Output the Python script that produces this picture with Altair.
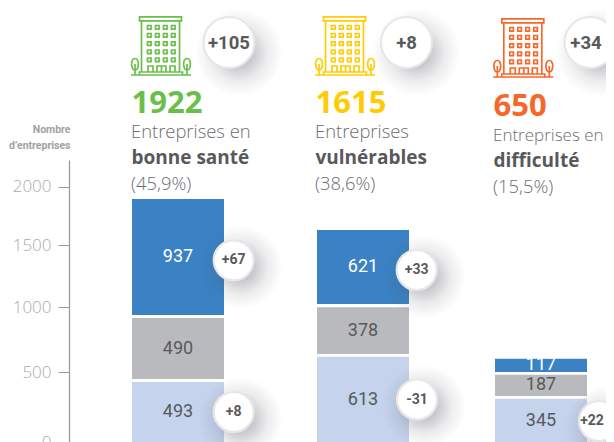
import altair as alt
import pandas as pd

# ---- data
groups = ["bonne santé", "vulnérables", "difficulté"]
totals = ["1922", "1615", "650"]
shares = ["(45,9%)", "(38,6%)", "(15,5%)"]
lead = ["Entreprises en", "Entreprises", "Entreprises en"]
totals_delta = ["+105", "+8", "+34"]
segment_labels = ["937", "490", "493", "621", "378", "613", "117", "187", "345"]
segment_group = [0, 0, 0, 1, 1, 1, 2, 2, 2]
segment_kind = ["haut", "milieu", "bas"] * 3
segment_low = [1032, 516, 0, 1121, 718, 0, 573, 379, 0]
segment_high = [1968, 1008, 492, 1718, 1094, 696, 680, 551, 357]
segment_delta = ["+67", "", "+8", "+33", "", "-31", "", "", "+22"]
axis_ticks = [0, 500, 1000, 1500, 2000]

# ---- layout (page pixels)
PX_X = alt.Scale(domain=[69, 606], range=[0, 537])
PX_Y = alt.Scale(domain=[8, 442], range=[0, 434])
BAR_Y = alt.Scale(domain=[0, 3508], range=[435, 0])
AXIS_Y = alt.Scale(domain=[-100, 0, 500, 1000, 1500, 2000, 2210],
                   range=[500, 434, 364, 299.3, 237.3, 178.6, 152], nice=False, zero=False)
bar_left = [132, 317, 495]
BAR_W = 92
colors = {"haut": "#3a82c4", "milieu": "#b9babd", "bas": "#c5d3ec"}
label_colors = {"haut": "#ffffff", "milieu": "#58595b", "bas": "#58595b"}
head_colors = ["#6abf4b", "#ffcb05", "#f7672a"]
GREY_D = "#58595b"
GREY_L = "#6d6e71"


def X(f="x"):
    return alt.X(f"{f}:Q", scale=PX_X, axis=None)


def Y(f="y"):
    return alt.Y(f"{f}:Q", scale=PX_Y, axis=None)


# ---- bars
rows = []
for i, lab in enumerate(segment_labels):
    g = segment_group[i]
    k = segment_kind[i]
    rows.append(dict(x=bar_left[g], x2=bar_left[g] + BAR_W, low=segment_low[i], high=segment_high[i],
                     mid=(segment_low[i] + segment_high[i]) / 2, xc=bar_left[g] + BAR_W / 2,
                     label=lab, kind=k, delta=segment_delta[i]))
bars_df = pd.DataFrame(rows)

bars = alt.Chart(bars_df).mark_rect().encode(
    x=X(), x2="x2:Q",
    y=alt.Y("low:Q", scale=BAR_Y, axis=None), y2="high:Q",
    color=alt.Color("kind:N", scale=alt.Scale(domain=list(colors), range=list(colors.values())), legend=None),
)
bar_text = alt.Chart(bars_df).mark_text(font="Roboto", fontSize=18, fontWeight=400, baseline="middle").encode(
    x=X("xc"),
    y=alt.Y("mid:Q", scale=BAR_Y, axis=None),
    text="label:N",
    color=alt.Color("kind:N", scale=alt.Scale(domain=list(label_colors), range=list(label_colors.values())), legend=None),
)

# ---- axis
axis_df = pd.DataFrame({"v": axis_ticks})
axis_layer = alt.Chart(axis_df).mark_point(opacity=0, size=1).encode(
    x=alt.value(0),
    y=alt.Y("v:Q", scale=AXIS_Y, axis=alt.Axis(
        values=axis_ticks, format="d", grid=False, orient="left",
        domainColor="#9a9a9a", domainWidth=1.3, tickColor="#9a9a9a", tickWidth=1, tickSize=11,
        labelFont="Open Sans", labelFontWeight=300, labelFontSize=17, labelColor="#a8a9ad",
        labelPadding=7, labelOverlap=False, labelFlush=False, labelBound=False,
        title=["Nombre", "d’entreprises"], titleFont="Roboto", titleFontWeight="bold",
        titleFontSize=10.5, titleColor="#a0a1a4", titleAngle=0, titleAlign="right", titleBaseline="alphabetic",
        titleLineHeight=16, titleX=1, titleY=124,
    )),
)

# ---- header texts
head_x = [132, 316, 494]
head_dy = [0, 0, 2.5]
text_rows = []
for i in range(3):
    text_rows += [
        dict(x=head_x[i] - 0.5, y=113 + head_dy[i], t=totals[i], c=head_colors[i], kind="total"),
        dict(x=head_x[i] - 1, y=138 + head_dy[i], t=lead[i], c=GREY_L, kind="lead" if i < 2 else "lead_small"),
        dict(x=head_x[i] - 0.5, y=164 + head_dy[i], t=groups[i], c=GREY_D, kind="group"),
        dict(x=head_x[i] - 1, y=190 + head_dy[i], t=shares[i], c=GREY_L, kind="lead"),
    ]
tdf = pd.DataFrame(text_rows)


def head_text(kind, **mk):
    return alt.Chart(tdf[tdf.kind == kind]).mark_text(
        font="Open Sans", align="left", baseline="alphabetic", **mk
    ).encode(x=X(), y=Y(), text="t:N", color=alt.Color("c:N", scale=None))


# ---- badges
big = pd.DataFrame({"x": [229, 406.5, 590], "y": [42.5, 42.5, 42.5], "t": totals_delta})
big_text = big.assign(x=[229, 406.5, 586])
small = bars_df[bars_df.delta != ""].copy()
small["x"] = [233.7, 233.7, 416.7, 417, 599]
small["y"] = [260.3, 412, 270, 399.5, 421]
small["t"] = small["delta"]
small = small[["x", "y", "t"]]
small_text = small.assign(x=[233.7, 233.7, 416.7, 417, 592])

shadow_fill = alt.Gradient(
    gradient="radial", x1=0.5, y1=0.5, x2=0.5, y2=0.5, r1=0.15, r2=0.5,
    stops=[alt.GradientStop(offset=0, color="rgba(70,72,85,0.30)"),
           alt.GradientStop(offset=0.5, color="rgba(70,72,85,0.10)"),
           alt.GradientStop(offset=1, color="rgba(70,72,85,0)")],
)


def badge(df, tdf_, d, shadow_d, off, font_size):
    sdf = df.assign(x=df.x + off, y=df.y + off)
    shadow = alt.Chart(sdf).mark_circle(size=shadow_d ** 2, fill=shadow_fill, opacity=1).encode(x=X(), y=Y())
    disc = alt.Chart(df).mark_circle(size=d ** 2, fill="#ffffff", stroke="#e7e7e9", strokeWidth=2.2, opacity=1).encode(x=X(), y=Y())
    txt = alt.Chart(tdf_).mark_text(font="Roboto", fontWeight="bold", fontSize=font_size, color=GREY_D, baseline="middle").encode(
        x=X(), y=Y(), text="t:N")
    return [shadow, disc, txt]


# ---- building icon, drawn in a 60x60 box then normalised to the symbol's -1..1 space
def n(v):
    return f"{(v - 30) / 30:.4f}"


def sq(x, y, w, h):
    return f"M{n(x)} {n(y)}L{n(x + w)} {n(y)}L{n(x + w)} {n(y + h)}L{n(x)} {n(y + h)}Z"


parts = [
    sq(8.5, 0.8, 42, 4),
    f"M{n(10.5)} {n(4.8)}L{n(10.5)} {n(56)}M{n(48.5)} {n(4.8)}L{n(48.5)} {n(56)}",
    f"M{n(0)} {n(59)}L{n(60)} {n(59)}",
    sq(8.5, 56, 43, 3),
]
for cx in (16, 24, 32, 40):
    for cy in (9.5, 17.5, 25.8, 34, 42):
        parts.append(sq(cx + 0.5, cy, 3.6, 3.6))
parts.append(f"M{n(17)} {n(56)}L{n(17)} {n(50)}L{n(22)} {n(50)}L{n(22)} {n(56)}")
parts.append(f"M{n(26)} {n(56)}L{n(26)} {n(50)}L{n(35)} {n(50)}L{n(35)} {n(56)}M{n(30.5)} {n(50)}L{n(30.5)} {n(56)}")
parts.append(f"M{n(39)} {n(56)}L{n(39)} {n(50)}L{n(44)} {n(50)}L{n(44)} {n(56)}")
for tx in (4, 56):
    parts.append(
        f"M{n(tx)} {n(42.5)}C{n(tx + 5)} {n(42.5)} {n(tx + 4)} {n(54)} {n(tx)} {n(54)}"
        f"C{n(tx - 4)} {n(54)} {n(tx - 5)} {n(42.5)} {n(tx)} {n(42.5)}Z"
        f"M{n(tx)} {n(48)}L{n(tx)} {n(59)}"
    )
ICON = "".join(parts)
icons_df = pd.DataFrame({"x": [161, 345, 523.3], "y": [46, 46, 48], "c": head_colors})
icons = alt.Chart(icons_df).mark_point(shape=ICON, size=3600, filled=False, strokeWidth=1.7, opacity=1).encode(
    x=X(), y=Y(), stroke=alt.Stroke("c:N", scale=None))

layers = [axis_layer, bars, bar_text]
layers += badge(small, small_text, 40, 84, 7, 14)
layers += badge(big, big_text, 51, 88, 10, 18.5)
layers += [
    icons,
    head_text("total", fontSize=31, fontWeight="bold"),
    head_text("lead", fontSize=18.4, fontWeight=300),
    head_text("lead_small", fontSize=17, fontWeight=300),
    head_text("group", fontSize=19, fontWeight="bold"),
]

chart = alt.layer(*layers).resolve_scale(
    y="independent", color="independent", stroke="independent"
).properties(
    width=537, height=434,
    padding={"left": 61, "top": 0, "right": 0, "bottom": 0},
    autosize=alt.AutoSizeParams(type="none"),
).configure_view(stroke=None)

chart.save("out.html", embed_options={"renderer": "svg", "actions": False})
